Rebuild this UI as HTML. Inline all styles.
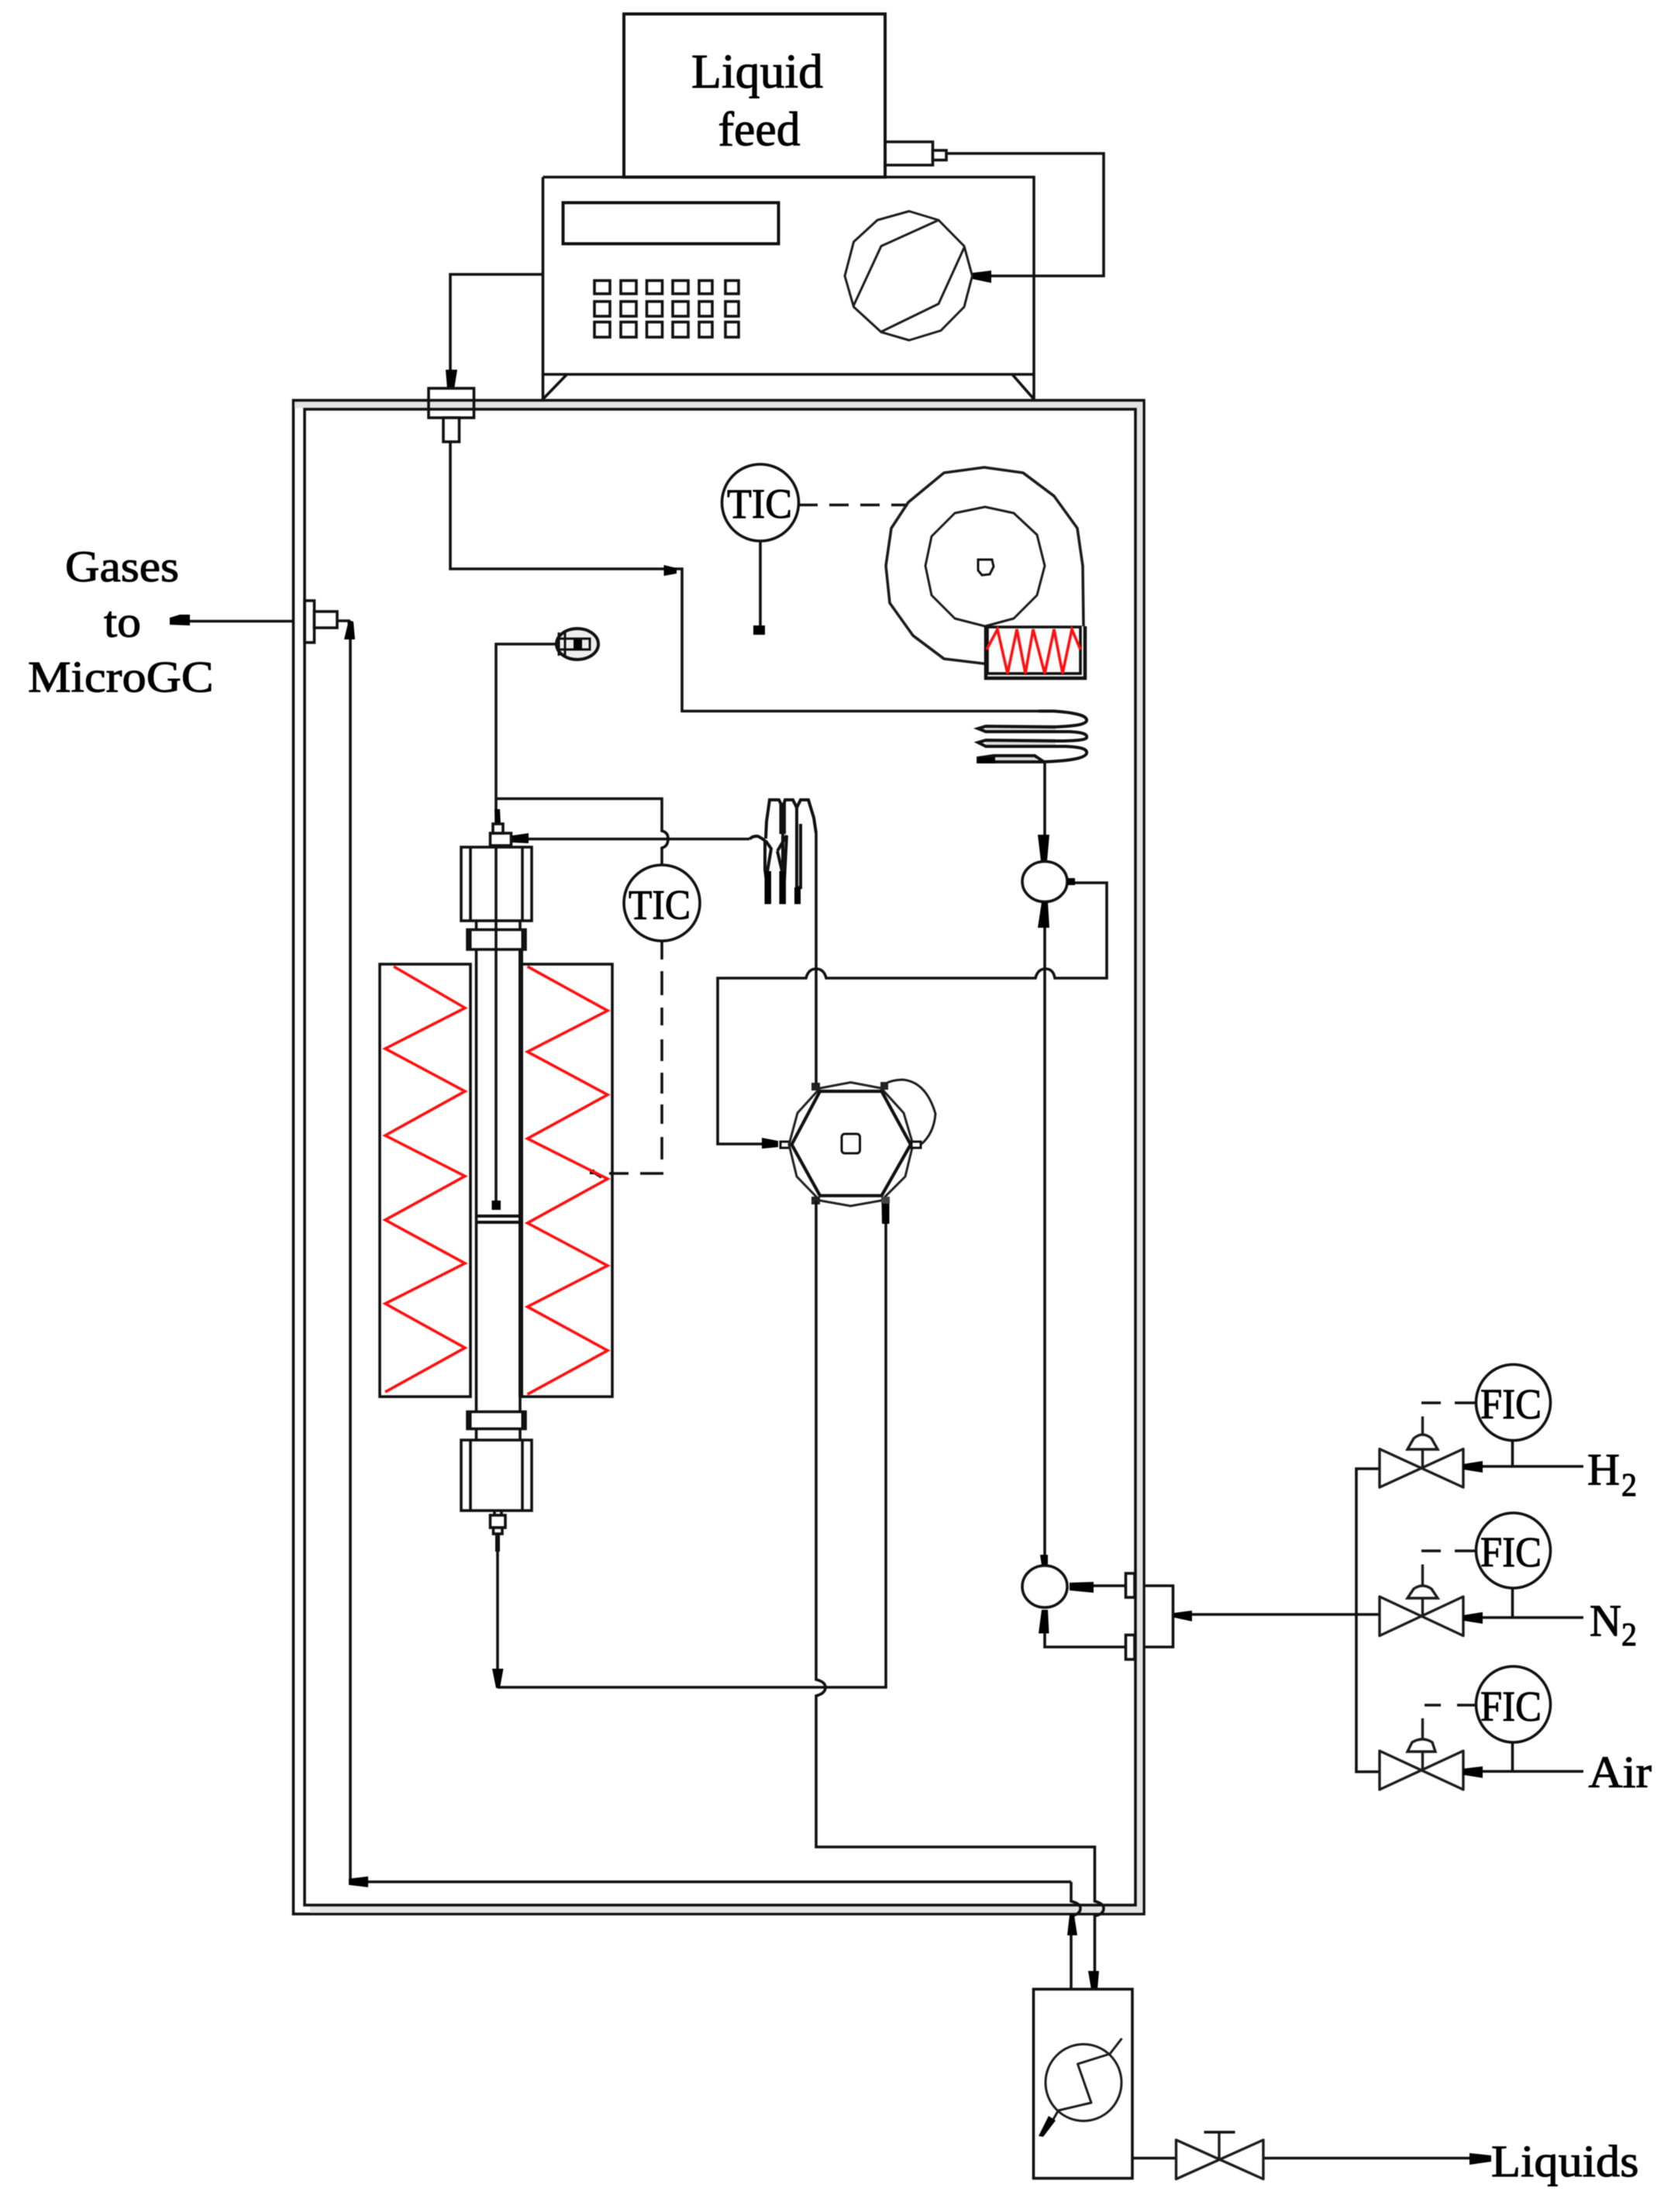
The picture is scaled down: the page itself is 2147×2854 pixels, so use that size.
<!DOCTYPE html>
<html><head><meta charset="utf-8"><style>
html,body{margin:0;padding:0;background:#fff}
svg{display:block;filter:blur(.45px)}
.l{fill:none;stroke:#111;stroke-width:3.6;stroke-linejoin:miter}
.t{fill:none;stroke:#1c1c1c;stroke-width:3;stroke-linejoin:round}
.w{fill:#fff;stroke:#111;stroke-width:3.6}
.a{fill:#000;stroke:none}
.r{fill:none;stroke:#ff1010;stroke-width:3.6}
text{font-family:"Liberation Serif",serif;fill:#000;stroke:#000;stroke-width:1}
</style></head><body>
<svg width="2147" height="2854" viewBox="0 0 2147 2854" xmlns="http://www.w3.org/2000/svg">
<rect width="2147" height="2854" fill="#fff"/>

<!-- oven frame -->
<rect x="378.5" y="516.5" width="1097.5" height="1953" fill="#fff" stroke="#111" stroke-width="3.6"/>
<path d="M380 522.5H1470.5V2464H400" fill="none" stroke="#e4e4e4" stroke-width="8"/>
<rect x="393" y="528" width="1072" height="1930" fill="#fff" stroke="#111" stroke-width="3.6"/>

<!-- liquid feed -->
<rect x="805" y="18" width="337" height="210.500" class="w" style="stroke-width:4"/>
<text x="892" y="113" font-size="62" textLength="170" lengthAdjust="spacingAndGlyphs">Liquid</text>
<text x="926.500" y="187.500" font-size="62" textLength="106" lengthAdjust="spacingAndGlyphs">feed</text>
<path class="l" d="M1142 183H1203.500V213H1142"/>
<rect x="1203.500" y="194" width="17.500" height="12.500" class="w"/>
<path class="l" d="M1221 198H1424V356H1276"/>
<polygon class="a" points="1255,352 1279,349 1279,365 1255,360"/>

<!-- pump -->
<path class="l" d="M700.500 228.500H1334V516.500M700.500 228.500V516.500M700.500 483H1334M700.500 515L731.500 483M1334 515L1306 483"/>
<rect x="726.500" y="261.500" width="278" height="53" class="w" style="stroke-width:4"/>
<g class="l">
<rect x="767" y="362" width="20" height="17"/><rect x="801" y="362" width="20" height="17"/><rect x="834.500" y="362" width="20" height="17"/><rect x="868" y="362" width="20" height="17"/><rect x="902" y="362" width="17" height="17"/><rect x="936" y="362" width="17" height="17"/>
<rect x="767" y="389" width="20" height="19"/><rect x="801" y="389" width="20" height="19"/><rect x="834.500" y="389" width="20" height="19"/><rect x="868" y="389" width="20" height="19"/><rect x="902" y="389" width="17" height="19"/><rect x="936" y="389" width="17" height="19"/>
<rect x="767" y="415.500" width="20" height="19.500"/><rect x="801" y="415.500" width="20" height="19.500"/><rect x="834.500" y="415.500" width="20" height="19.500"/><rect x="868" y="415.500" width="20" height="19.500"/><rect x="902" y="415.500" width="17" height="19.500"/><rect x="936" y="415.500" width="17" height="19.500"/>
</g>
<polygon class="t" points="1173,272.500 1211,284 1244,317.500 1254.500,356 1244,396 1214,426.500 1173,439 1137,428.500 1101.500,396 1090,356 1101.500,312 1132,284"/>
<path class="t" d="M1211 284L1137 317.500L1101.500 394M1244 319.500L1211 392L1137 428"/>

<!-- pump outlet through roof -->
<path class="l" d="M700.500 354H581V501"/>
<polygon class="a" points="575,477 590,477 586,502 577,502"/>
<rect x="553" y="501" width="58.500" height="38" fill="none" stroke="#111" stroke-width="3.6"/>
<rect x="572" y="539" width="20.500" height="31" class="w"/>
<path class="l" d="M581 570V734H880V917.500H1340"/>
<polygon class="a" points="856.500,729 873,733 873,740 856.500,743"/>

<!-- top TIC -->
<circle cx="981" cy="648.500" r="49.500" class="w"/>
<text x="938" y="668" font-size="54" textLength="84" lengthAdjust="spacingAndGlyphs">TIC</text>
<path class="l" d="M981 698V808"/>
<rect x="972" y="807" width="15" height="12" fill="#000"/>
<path class="l" d="M1030 651.500H1171" stroke-dasharray="25 15"/>

<!-- blower -->
<polyline class="t" style="stroke-width:3.6" points="1272,856.500 1218,850 1178,820 1148,778 1143,730 1150,681.500 1172,648 1218,610 1270,603 1320,610 1360,640 1390,681.500 1397,730 1398,808"/>
<polygon class="t" points="1271,654 1308,662 1338,690 1348,730 1338,768 1308,798 1271,808 1232,798 1202,768 1194,730 1202,692 1232,662"/>
<polygon class="l" style="stroke-width:3" points="1262,722 1280,722 1282,731 1277,741 1267,742 1262,736"/>
<rect x="1270" y="856" width="131" height="20" fill="#fff" stroke="none"/>
<path class="l" style="stroke-width:4.5" d="M1272 808V875H1400V808"/>
<rect x="1274" y="809" width="120" height="60" class="w"/>
<polyline class="r" points="1273,838 1287,812 1300,869 1312,812 1323,869 1333,812 1348,869 1360,812 1371,869 1383,812 1394,838"/>

<!-- coil 1 -->
<rect x="1272" y="935" width="90" height="10" fill="#ddd"/>
<rect x="1272" y="953" width="90" height="12" fill="#ddd"/>
<rect x="1282" y="975" width="55" height="8" fill="#ddd"/>
<path class="l" style="stroke-width:4" d="M1340 917.500H1360C1395 920 1403 925 1402 930C1400 936 1380 937 1360 938L1272 937L1262 940L1272 944L1380 944C1400 945 1403 948 1402 952C1400 955 1385 956 1365 956L1272 955L1262 958L1272 963L1375 963C1400 964 1403 968 1402 972C1400 979 1375 982 1345 983L1262 983V978L1282 975L1335 975L1347 983"/>
<rect x="1262" y="977" width="22" height="8" fill="#000"/>
<path class="l" d="M1348 983V1078"/>

<!-- upper rotary valve -->
<polygon class="a" points="1339,1077 1354,1077 1351,1111 1343,1111"/>
<ellipse cx="1348" cy="1137.500" rx="29" ry="26" class="w"/>
<polygon class="a" points="1344,1164 1352,1164 1354,1197 1339,1197"/>
<rect x="1377" y="1133" width="10" height="9" fill="#000"/>
<path class="l" d="M1387 1139H1428V1262H1361Q1359 1250 1349 1250Q1339 1250 1336 1262H1066Q1063 1250 1053 1250Q1043 1250 1040 1262H926V1476H985"/>
<path class="l" d="M1348 1197V2007"/>
<path class="l" d="M1053 1075V1397"/>

<!-- six way valve -->
<polygon class="a" points="983,1468 1004,1472 1004,1480 983,1482"/>
<rect x="1007" y="1473" width="13" height="8" class="w" style="stroke-width:3"/>
<polygon fill="#fff" stroke="#222" stroke-width="3" points="1097.500,1396.500 1137,1404 1166,1436 1178,1476.700 1168,1518 1137,1549 1097.500,1556 1058,1549 1028,1518 1018,1476.700 1029,1436 1058,1404"/>
<polygon class="l" style="stroke-width:4.200" points="1021.500,1476.700 1058,1408 1137.500,1408 1175,1476.700 1137.500,1542.700 1058,1542.700"/>
<rect x="1086" y="1463" width="23.500" height="25" rx="4" class="l" style="stroke-width:3"/>
<path class="t" d="M1139 1400Q1150 1393 1165 1393Q1195 1396 1207 1437Q1205 1462 1189 1476"/>
<rect x="1176" y="1473" width="12" height="8" class="w" style="stroke-width:3"/>
<rect x="1047" y="1397" width="11" height="10" fill="#222"/>
<rect x="1136" y="1396" width="10" height="10" fill="#222"/>
<rect x="1047" y="1544" width="11" height="10" fill="#222"/>
<rect x="1137" y="1544" width="11" height="9" fill="#444"/>
<polygon class="a" points="1138,1579 1147.500,1579 1147.500,1553 1137.500,1553"/>
<path class="l" d="M1053 1550V2167Q1065 2170 1065 2177Q1065 2185 1053 2188V2383H1412.500V2453Q1424 2456 1424 2462Q1424 2470 1412.500 2472V2566"/>
<path class="l" d="M1143 1579V2177H642"/>
<polygon class="a" points="1404,2543 1418,2543 1416,2567 1408,2567"/>

<!-- second coil -->
<path class="l" style="stroke-width:4" d="M967 1082.500Q972 1078 978 1079Q984 1082 987 1085V1122L990 1145M988 1082L989 1060L993 1032H1005L1010 1042V1145M1010 1042L1013 1032H1023L1028 1042V1145M1028 1042L1033 1032H1043L1050 1055L1053 1075M990 1125L995 1095L988 1085M1003 1098L1012 1137L1015 1078L1003 1098M1033 1063V1145H1028"/>
<rect x="986.500" y="1124" width="8.500" height="42.500" fill="#000"/>
<rect x="1005.500" y="1124" width="8.500" height="42.500" fill="#000"/>
<rect x="1025" y="1145" width="8" height="21.500" fill="#000"/>
<rect x="1005.500" y="1036" width="8.500" height="40" fill="#111"/>

<!-- feed to reactor and thermocouple -->
<path class="l" d="M717 831H640V1064"/>
<path class="l" d="M640 1030.500H854V1072Q862 1074 862 1082Q862 1092 854 1094V1117"/>
<ellipse cx="745" cy="831" rx="27" ry="20" fill="#eee" stroke="#111" stroke-width="4"/>
<path class="l" style="stroke-width:3" d="M721 816V846M729 816V846M721 824H761V838H721"/>
<rect x="740" y="825" width="11" height="13" fill="#000"/>
<polygon class="a" points="638,1044 645,1044 646,1063 639,1063"/>
<path class="l" d="M682 1082.500H967"/>
<polygon class="a" points="661,1078 682,1075 682,1088 661,1087"/>

<!-- TIC 2 -->
<circle cx="854" cy="1165" r="49" class="w"/>
<text x="811" y="1185.500" font-size="54" textLength="80" lengthAdjust="spacingAndGlyphs">TIC</text>
<path class="l" d="M854 1214V1238M854 1253V1284M854 1300V1323M854 1341V1369M854 1384V1411M854 1425V1450M854 1467V1496M856 1514H826M811 1514H786M776 1519L765 1512"/>
<rect x="761" y="1509" width="6" height="6" fill="#000"/>

<!-- furnace -->
<rect x="490" y="1244" width="117" height="558" class="l"/>
<rect x="673" y="1244" width="117" height="558" class="l"/>
<polyline class="r" points="508,1247 600,1300.500 497,1353 600,1408 497,1465 600,1517.500 497,1574 600,1630 497,1682 600,1739 497,1796"/>
<polyline class="r" points="680.500,1247 784,1304 680.500,1357 784,1412.500 680.500,1469 784,1521 680.500,1578 784,1633 680.500,1686 784,1742.500 680.500,1799"/>

<!-- reactor -->
<path class="l" d="M614.500 1188V1858M671 1188V1858"/>
<path class="l" style="stroke-width:6" d="M672 1225V1802"/>
<rect x="603" y="1199.500" width="75" height="25.500" fill="#fff" stroke="#111" stroke-width="3.600"/>
<path class="l" style="stroke-width:7" d="M605 1199V1225M676 1199V1225"/>
<rect x="603" y="1821.500" width="75" height="22" fill="#fff" stroke="#111" stroke-width="3.600"/>
<path class="l" style="stroke-width:7" d="M605 1821V1844M676 1821V1844"/>
<rect x="595" y="1093" width="91" height="95" class="w"/>
<rect x="595" y="1858" width="91" height="91" class="w"/>
<path class="l" d="M607 1093V1188M674 1093V1188M607 1858V1949M674 1858V1949"/>
<path class="l" d="M640 1093V1550"/>
<rect x="634.500" y="1549" width="11.500" height="12" fill="#000"/>
<path class="l" style="stroke-width:4" d="M614 1569H671M614 1577H671"/>
<rect x="632.500" y="1075" width="27" height="16" class="w"/>
<rect x="636" y="1063" width="13" height="12" class="w"/>
<rect x="632.500" y="1955" width="19.500" height="16" class="w"/>
<rect x="636.500" y="1971" width="11.500" height="8" class="w"/>
<path class="l" d="M638 1949V1955M647 1949V1955"/>
<path class="l" style="stroke-width:6" d="M642 1979V2002"/>
<path class="l" d="M642 2002V2177"/>
<polygon class="a" points="635,2153 649.500,2153 645,2178 640,2178"/>

<!-- gases out -->
<path class="l" d="M378 801.500H245"/>
<polygon class="a" points="219,797 232,793 245,793 245,807 219,806"/>
<rect x="393" y="775" width="12.500" height="54" class="l"/>
<rect x="405.500" y="789" width="29.500" height="21" class="w"/>
<path class="l" d="M435 801H450L452 825V2428H1382"/>
<polygon class="a" points="444,825 458,825 456,802 450,800"/>
<polygon class="a" points="450,2424 475,2421 475,2435 450,2432"/>
<text x="84" y="750" font-size="57" textLength="147" lengthAdjust="spacingAndGlyphs">Gases</text>
<text x="134" y="821.500" font-size="57" textLength="48" lengthAdjust="spacingAndGlyphs">to</text>
<text x="36" y="892.500" font-size="57" textLength="239.500" lengthAdjust="spacingAndGlyphs">MicroGC</text>

<!-- bottom lines -->
<path class="l" d="M1382 2428V2453Q1394 2456 1394 2462Q1394 2470 1382 2472V2566"/>
<polygon class="a" points="1377,2497 1390,2497 1386,2471 1380,2471"/>

<!-- heat exchanger -->
<rect x="1333.500" y="2566.500" width="127.500" height="244" class="w"/>
<ellipse cx="1398" cy="2687" rx="49" ry="49.500" class="t"/>
<path class="t" d="M1447.500 2630L1432 2650L1390.500 2663L1408 2713L1365.500 2723L1357 2738"/>
<polygon class="a" points="1353,2730 1362,2736 1346,2757 1340,2756"/>
<path class="l" d="M1461 2784.500H1517.500M1630 2784.500H1896"/>
<path class="t" style="stroke-width:3.400" d="M1517.500 2761V2811.500L1630 2761V2811.500ZM1573 2786V2751"/>
<path class="l" d="M1553.500 2751H1593.500"/>
<polygon class="a" points="1896,2778 1924,2781 1924,2789 1896,2793"/>
<text x="1924" y="2808" font-size="58" textLength="190.500" lengthAdjust="spacingAndGlyphs">Liquids</text>

<!-- lower rotary valve -->
<polygon class="a" points="1342,2006 1352,2006 1352,2020 1344,2020"/>
<ellipse cx="1348" cy="2047" rx="29" ry="27" class="w"/>
<polygon class="a" points="1344,2077 1352,2077 1353.500,2107.500 1340,2107.500"/>
<polygon class="a" points="1380,2042 1411,2041 1411,2055 1380,2052"/>
<path class="l" d="M1411 2046H1452.500M1348 2107V2125H1452.500"/>
<rect x="1452.500" y="2030" width="11.500" height="31" class="l"/>
<rect x="1452.500" y="2109.500" width="11.500" height="31.500" class="l"/>
<path class="l" d="M1476 2046H1513.500V2125H1476"/>
<polygon class="a" points="1515,2081 1538,2078 1538,2092 1515,2087"/>
<path class="l" d="M1538 2083H1780"/>

<!-- gas manifold -->
<path class="l" d="M1780 1895H1750V2286H1780"/>
<g class="t" style="stroke-width:3.400">
<path d="M1780 1869.500V1919L1888 1869.500V1919ZM1835.500 1894V1827.500"/>
<path d="M1780 2060V2110.500L1888 2060V2110.500ZM1835.500 2085V2018.500"/>
<path d="M1780 2259V2309L1888 2259V2309ZM1835.500 2284V2217"/>
</g>
<path fill="#fff" stroke="#1c1c1c" stroke-width="3.400" d="M1816 1870L1824 1856Q1835.500 1846 1847 1856L1855 1870ZM1816 2062L1824 2050Q1835.500 2042 1847 2050L1855 2062ZM1816 2260L1822 2248Q1835.500 2240 1848 2248L1852 2260Z"/>
<g class="l">
<path d="M1834 1810H1859M1877 1810H1905M1951.500 1858V1892M1913 1892H2043"/>
<path d="M1834 2001H1859M1877 2001H1905M1951.500 2049V2087M1913 2087H2043"/>
<path d="M1838 2200H1859M1880 2200H1905M1951.500 2248V2285.500M1913 2285.500H2043"/>
</g>
<polygon class="a" points="1888,1889 1913,1885 1913,1900 1888,1896"/>
<polygon class="a" points="1888,2084 1913,2080 1913,2095 1888,2091"/>
<polygon class="a" points="1888,2282 1913,2279 1913,2294 1888,2290"/>
<ellipse cx="1952.500" cy="1809.500" rx="48" ry="49" class="w"/>
<ellipse cx="1952.500" cy="2000.500" rx="48" ry="48.500" class="w"/>
<ellipse cx="1952.500" cy="2199" rx="48" ry="49" class="w"/>
<text x="1910" y="1830" font-size="55" textLength="79" lengthAdjust="spacingAndGlyphs">FIC</text>
<text x="1910" y="2021" font-size="55" textLength="79" lengthAdjust="spacingAndGlyphs">FIC</text>
<text x="1910" y="2220" font-size="55" textLength="79" lengthAdjust="spacingAndGlyphs">FIC</text>
<text x="2048" y="1915.500" font-size="58" textLength="42" lengthAdjust="spacingAndGlyphs">H</text>
<text x="2092" y="1930" font-size="42" textLength="20" lengthAdjust="spacingAndGlyphs">2</text>
<text x="2051" y="2110.500" font-size="58" textLength="41" lengthAdjust="spacingAndGlyphs">N</text>
<text x="2092" y="2123" font-size="42" textLength="20" lengthAdjust="spacingAndGlyphs">2</text>
<text x="2049.500" y="2306" font-size="58" textLength="81.500" lengthAdjust="spacingAndGlyphs">Air</text>
</svg>
</body></html>
